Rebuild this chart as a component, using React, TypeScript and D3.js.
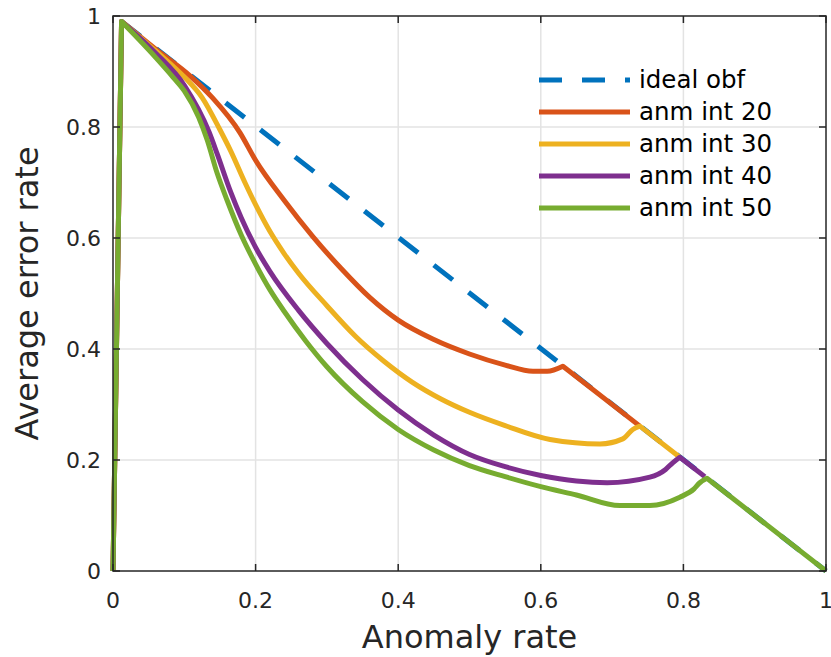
import React, { useEffect, useRef } from "react";
import * as d3 from "d3";

const ticks = [0, 0.2, 0.4, 0.6, 0.8, 1];
const tickLabels = ["0", "0.2", "0.4", "0.6", "0.8", "1"];

const seriesNames = ["ideal obf", "anm int 20", "anm int 30", "anm int 40", "anm int 50"];
const colors = ["#0072BD", "#D95319", "#EDB120", "#7E2F8E", "#77AC30"];

const idealX = [0.012, 1];
const idealY = [0.99, 0];

const int20X = [0, 0.012, 0.06, 0.11, 0.14, 0.178, 0.2, 0.24, 0.28, 0.32, 0.36, 0.4, 0.45, 0.5, 0.55, 0.589, 0.609, 0.631, 0.739];
const int20Y = [0, 0.99, 0.94, 0.89, 0.852, 0.79, 0.74, 0.668, 0.603, 0.545, 0.493, 0.452, 0.417, 0.391, 0.371, 0.36, 0.36, 0.369, 0.261];

const int30X = [0, 0.012, 0.06, 0.1, 0.125, 0.15, 0.165, 0.185, 0.2, 0.22, 0.24, 0.26, 0.3, 0.34, 0.38, 0.42, 0.46, 0.5, 0.55, 0.613, 0.683, 0.715, 0.729, 0.739, 0.795];
const int30Y = [0, 0.99, 0.937, 0.89, 0.853, 0.795, 0.757, 0.7, 0.66, 0.612, 0.572, 0.537, 0.478, 0.423, 0.378, 0.34, 0.31, 0.286, 0.262, 0.237, 0.229, 0.238, 0.255, 0.261, 0.205];

const int40X = [0, 0.012, 0.06, 0.1, 0.135, 0.146, 0.165, 0.18, 0.2, 0.22, 0.26, 0.3, 0.35, 0.4, 0.45, 0.5, 0.55, 0.6, 0.65, 0.693, 0.753, 0.775, 0.785, 0.795, 0.83];
const int40Y = [0, 0.99, 0.933, 0.875, 0.79, 0.752, 0.683, 0.636, 0.583, 0.54, 0.47, 0.41, 0.345, 0.29, 0.245, 0.21, 0.188, 0.172, 0.162, 0.159, 0.169, 0.183, 0.195, 0.205, 0.17];

const int50X = [0, 0.012, 0.06, 0.084, 0.1, 0.12, 0.132, 0.146, 0.16, 0.18, 0.2, 0.22, 0.24, 0.27, 0.3, 0.35, 0.4, 0.45, 0.5, 0.55, 0.6, 0.65, 0.711, 0.753, 0.795, 0.815, 0.823, 0.833, 1];
const int50Y = [0, 0.99, 0.925, 0.89, 0.865, 0.818, 0.777, 0.717, 0.668, 0.605, 0.553, 0.507, 0.468, 0.415, 0.368, 0.305, 0.255, 0.218, 0.19, 0.17, 0.152, 0.137, 0.118, 0.118, 0.133, 0.148, 0.159, 0.167, 0];

const allX = [idealX, int20X, int30X, int40X, int50X];
const allY = [idealY, int20Y, int30Y, int40Y, int50Y];
// index where the smooth part ends and the straight tail along y = 1 - x begins
const smoothEnd = [1, 17, 23, 23, 27];

export default function App() {
  const ref = useRef<SVGSVGElement>(null);

  useEffect(() => {
    const svg = d3.select(ref.current);
    svg.selectAll("*").remove();

    const W = 831, H = 657;
    const left = 113, right = 826, top = 16, bottom = 571;
    const font = "DejaVu Sans, sans-serif";
    const axisColor = "#262626";

    const x = d3.scaleLinear().domain([0, 1]).range([left, right]);
    const y = d3.scaleLinear().domain([0, 1]).range([bottom, top]);

    svg.attr("width", W).attr("height", H);
    svg.append("rect").attr("width", W).attr("height", H).attr("fill", "#fff");

    // grid
    const grid = svg.append("g").attr("stroke", "#e3e3e3").attr("stroke-width", 1.5);
    ticks.slice(1, -1).forEach(t => {
      grid.append("line").attr("x1", x(t)).attr("x2", x(t)).attr("y1", top).attr("y2", bottom);
      grid.append("line").attr("x1", left).attr("x2", right).attr("y1", y(t)).attr("y2", y(t));
    });

    // series: straight rise, smooth middle, straight tail
    const straight = d3.line<[number, number]>().x(d => x(d[0])).y(d => y(d[1]));
    const smooth = d3.line<[number, number]>().x(d => x(d[0])).y(d => y(d[1])).curve(d3.curveMonotoneX);

    allX.forEach((xs, i) => {
      const pts = xs.map((v, j) => [v, allY[i][j]] as [number, number]);
      let d: string;
      if (i === 0) {
        d = straight(pts) as string;
      } else {
        const e = smoothEnd[i];
        const head = straight(pts.slice(0, 2)) as string;
        const mid = (smooth(pts.slice(1, e + 1)) as string).replace(/^M/, "L");
        const tail = (straight(pts.slice(e)) as string).replace(/^M/, "L");
        d = head + mid + tail;
      }
      svg.append("path")
        .attr("d", d)
        .attr("fill", "none")
        .attr("stroke", colors[i])
        .attr("stroke-width", 5)
        .attr("stroke-linejoin", "round")
        .attr("stroke-dasharray", i === 0 ? "24 20" : null);
    });

    // box and ticks
    const box = svg.append("g").attr("stroke", axisColor).attr("stroke-width", 1.5).attr("fill", "none");
    box.append("rect").attr("x", left).attr("y", top).attr("width", right - left).attr("height", bottom - top);
    const tl = 7;
    ticks.forEach(t => {
      box.append("line").attr("x1", x(t)).attr("x2", x(t)).attr("y1", bottom).attr("y2", bottom - tl);
      box.append("line").attr("x1", x(t)).attr("x2", x(t)).attr("y1", top).attr("y2", top + tl);
      box.append("line").attr("x1", left).attr("x2", left + tl).attr("y1", y(t)).attr("y2", y(t));
      box.append("line").attr("x1", right).attr("x2", right - tl).attr("y1", y(t)).attr("y2", y(t));
    });

    // tick labels
    ticks.forEach((t, i) => {
      svg.append("text")
        .attr("x", x(t)).attr("y", bottom + 37)
        .attr("text-anchor", "middle")
        .attr("font-family", font).attr("font-size", 22)
        .attr("fill", axisColor)
        .text(tickLabels[i]);
      svg.append("text")
        .attr("x", left - 12).attr("y", y(t) + 8)
        .attr("text-anchor", "end")
        .attr("font-family", font).attr("font-size", 22)
        .attr("fill", axisColor)
        .text(tickLabels[i]);
    });

    // axis labels
    svg.append("text")
      .attr("x", (left + right) / 2).attr("y", 648)
      .attr("text-anchor", "middle")
      .attr("font-family", font).attr("font-size", 32)
      .attr("fill", axisColor)
      .text("Anomaly rate");
    svg.append("text")
      .attr("transform", `translate(38, ${(top + bottom) / 2}) rotate(-90)`)
      .attr("text-anchor", "middle")
      .attr("font-family", font).attr("font-size", 32)
      .attr("fill", axisColor)
      .text("Average error rate");

    // legend
    const legend = svg.append("g").attr("transform", "translate(539, 80)");
    seriesNames.forEach((name, i) => {
      const row = legend.append("g").attr("transform", `translate(0, ${i * 32})`);
      row.append("line")
        .attr("x1", 0).attr("x2", 91).attr("y1", 0).attr("y2", 0)
        .attr("stroke", colors[i]).attr("stroke-width", 5)
        .attr("stroke-dasharray", i === 0 ? "23 20" : null);
      row.append("text")
        .attr("x", 100).attr("y", 8)
        .attr("font-family", font).attr("font-size", 24.5)
        .attr("fill", "#000")
        .text(name);
    });
  }, []);

  return <svg ref={ref} style={{ position: "absolute", left: 0, top: 0 }} />;
}
